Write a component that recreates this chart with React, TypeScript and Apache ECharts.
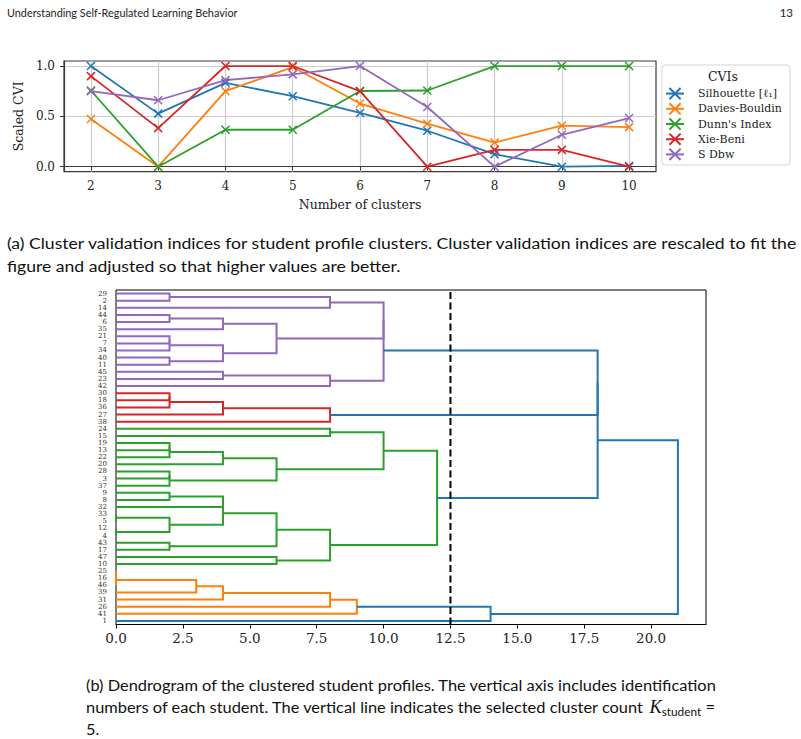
import React, { useEffect, useRef } from 'react';
import * as echarts from 'echarts';

// ---- (a) cluster validation indices, rescaled so that higher is better ----
const clusterCounts = [2, 3, 4, 5, 6, 7, 8, 9, 10];
const silhouette = [1.0, 0.527, 0.833, 0.7, 0.534, 0.357, 0.124, 0.0, 0.007];
const daviesBouldin = [0.473, 0.0, 0.75, 0.99, 0.627, 0.427, 0.24, 0.407, 0.393];
const dunnIndex = [0.757, 0.0, 0.367, 0.367, 0.752, 0.757, 1.0, 1.0, 1.0];
const xieBeni = [0.9, 0.383, 1.0, 1.0, 0.75, 0.0, 0.167, 0.167, 0.0];
const sDbw = [0.75, 0.66, 0.86, 0.917, 1.0, 0.593, 0.0, 0.317, 0.483];
const cviNames = ['Silhouette [ℓ₁]', 'Davies-Bouldin', "Dunn's Index", 'Xie-Beni', 'S Dbw'];
const cviSeries = [silhouette, daviesBouldin, dunnIndex, xieBeni, sDbw];
const cviTicks = [0, 0.5, 1.0];

// ---- (b) dendrogram of student profiles ----
// student ids in leaf order, top to bottom
const studentIds = [
  29, 2, 14, 44, 6, 35, 21, 7, 34, 40, 11, 45, 23, 42, 30, 18, 36, 27, 38, 24,
  15, 19, 13, 22, 20, 28, 3, 37, 9, 8, 32, 33, 5, 12, 4, 43, 17, 47, 10, 25,
  16, 46, 39, 31, 26, 41, 1,
];
// merges: [child, child, distance]; numbers are student ids, 'mK' is merge K
const linkage: [number | string, number | string, number][] = [
  [29, 2, 2],
  ['m0', 14, 8],
  [44, 6, 2],
  ['m2', 35, 4],
  [21, 7, 2],
  ['m4', 34, 2],
  [40, 11, 2],
  ['m5', 'm6', 4],
  ['m3', 'm7', 6],
  ['m1', 'm8', 10],
  [45, 23, 4],
  ['m10', 42, 8],
  ['m9', 'm11', 10],
  [30, 18, 2],
  ['m13', 36, 2],
  ['m14', 27, 4],
  ['m15', 38, 8],
  [24, 15, 8],
  [19, 13, 2],
  ['m18', 22, 2],
  ['m19', 20, 4],
  [28, 3, 2],
  ['m21', 37, 2],
  ['m20', 'm22', 6],
  ['m17', 'm23', 10],
  [9, 8, 2],
  ['m25', 32, 4],
  [33, 5, 0],
  [12, 4, 0],
  ['m27', 'm28', 2],
  ['m26', 'm29', 4],
  [43, 17, 2],
  ['m30', 'm31', 6],
  [47, 10, 6],
  ['m32', 'm33', 8],
  ['m24', 'm34', 12],
  [25, 16, 0],
  ['m36', 46, 0],
  ['m37', 39, 3],
  ['m38', 31, 4],
  ['m39', 26, 8],
  ['m40', 41, 9],
  ['m12', 'm16', 18],
  ['m42', 'm35', 18],
  ['m41', 1, 14],
  ['m43', 'm44', 21],
];
const cutHeight = 12.5;
const distanceTicks = [0, 2.5, 5, 7.5, 10, 12.5, 15, 17.5, 20];

const lineColors = ['#1f77b4', '#ff7f0e', '#2ca02c', '#d62728', '#9467bd'];
const clusterColors = ['#ff7f0e', '#2ca02c', '#d62728', '#9467bd', '#8c564b', '#e377c2'];
const aboveCutColor = '#1f77b4';
const serif = "'DejaVu Serif', serif";
const sans = "Lato, 'Open Sans', sans-serif";

function buildDendrogram() {
  const n = studentIds.length;
  const leafY = new Map<number, number>();
  studentIds.forEach((id, i) => leafY.set(id, 10 * (n - 1 - i) + 5));
  const nodes: { x: number; y: number }[] = [];
  const mergeIndex = (ref: string) => Number(ref.slice(1));
  const resolve = (ref: number | string) =>
    typeof ref === 'number' ? { x: 0, y: leafY.get(ref) as number } : nodes[mergeIndex(ref)];
  const links = linkage.map(([a, b, h]) => {
    const A = resolve(a);
    const B = resolve(b);
    nodes.push({ x: h, y: (A.y + B.y) / 2 });
    return [A.x, A.y, h, B.y, B.x];
  });

  // colour each flat cluster below the cut, ordered from the bottom leaf upwards
  const colors: string[] = linkage.map(() => aboveCutColor);
  const clusters: { members: number[]; low: number }[] = [];
  const collect = (k: number, acc: number[]) => {
    acc.push(k);
    for (const ref of [linkage[k][0], linkage[k][1]]) {
      if (typeof ref === 'string') collect(mergeIndex(ref), acc);
    }
  };
  const visit = (k: number) => {
    if (linkage[k][2] < cutHeight) {
      const acc: number[] = [];
      collect(k, acc);
      const low = Math.min(...acc.map((m) => Math.min(links[m][1], links[m][3])));
      clusters.push({ members: acc, low });
    } else {
      for (const ref of [linkage[k][0], linkage[k][1]]) {
        if (typeof ref === 'string') visit(mergeIndex(ref));
      }
    }
  };
  visit(linkage.length - 1);
  clusters.sort((p, q) => p.low - q.low);
  clusters.forEach((c, i) => c.members.forEach((m) => (colors[m] = clusterColors[i % clusterColors.length])));
  return links.map((l, k) => ({ value: l, itemStyle: { color: colors[k] } }));
}

// caption line helper: left-anchored text, stretched horizontally by sx
function captionLine(text: string, x: number, y: number, size: number, sx: number, extra: any = {}) {
  return {
    type: 'text',
    x,
    y,
    scaleX: sx,
    style: { text, font: `${size}px ${sans}`, fill: '#111', verticalAlign: 'middle', ...extra },
  };
}

export default function App() {
  const ref = useRef<HTMLDivElement>(null);

  useEffect(() => {
    if (!ref.current) return;
    const chart = echarts.init(ref.current, undefined, { renderer: 'svg' });
    const links = buildDendrogram();
    const leafLabels = studentIds.slice().reverse().map(String);
    const maxDistance = Math.max(...linkage.map((l) => l[2])) * 1.05;

    const cviLines = cviNames.map((name, s) => ({
      type: 'line',
      name,
      xAxisIndex: 0,
      yAxisIndex: 0,
      data: clusterCounts.map((c, i) => [c, cviSeries[s][i]]),
      symbol: 'path://M0,0L10,10M0,10L10,0',
      symbolSize: 8,
      lineStyle: { color: lineColors[s], width: 1.8 },
      itemStyle: { color: lineColors[s], borderColor: lineColors[s], borderWidth: 1.5 },
      emphasis: { disabled: true },
      z: 3,
    }));

    chart.setOption({
      animation: false,
      backgroundColor: '#ffffff',
      grid: [
        {
          left: 64, top: 61, width: 592, height: 110.7,
          show: true, borderColor: '#3a3a3a', borderWidth: 1.2, backgroundColor: 'transparent',
          outerBoundsMode: 'none', containLabel: false,
        },
        {
          left: 116, top: 290, width: 590, height: 334.5,
          show: true, borderColor: '#000', borderWidth: 1, backgroundColor: 'transparent',
          outerBoundsMode: 'none', containLabel: false,
        },
      ],
      xAxis: [
        {
          type: 'value', gridIndex: 0, min: 1.6, max: 10.4,
          name: 'Number of clusters', nameLocation: 'middle', nameGap: 26,
          nameTextStyle: { fontFamily: serif, fontSize: 12.5, color: '#222' },
          axisLine: { show: true, lineStyle: { color: '#3a3a3a', width: 1.2 } },
          axisTick: { show: true, length: 4, customValues: clusterCounts, lineStyle: { color: '#3a3a3a' } },
          axisLabel: { customValues: clusterCounts, fontFamily: serif, fontSize: 12, color: '#222', margin: 8 },
          splitLine: { show: true, lineStyle: { color: '#cccccc', width: 1.2 } },
        },
        {
          type: 'value', gridIndex: 1, min: 0, max: maxDistance,
          axisLine: { show: true, lineStyle: { color: '#000', width: 1 } },
          axisTick: { show: true, length: 4, customValues: distanceTicks, lineStyle: { color: '#000' } },
          axisLabel: {
            customValues: distanceTicks, fontFamily: serif, fontSize: 13.5, color: '#222', margin: 6,
            formatter: (v: number) => v.toFixed(1),
          },
          splitLine: { show: false },
        },
      ],
      yAxis: [
        {
          type: 'value', gridIndex: 0, min: -0.05, max: 1.05,
          name: 'Scaled CVI', nameLocation: 'middle', nameGap: 33,
          nameTextStyle: { fontFamily: serif, fontSize: 12.5, color: '#222' },
          axisLine: { show: true, lineStyle: { color: '#3a3a3a', width: 1.2 } },
          axisTick: { show: true, length: 4, customValues: cviTicks, lineStyle: { color: '#3a3a3a' } },
          axisLabel: {
            customValues: cviTicks, fontFamily: serif, fontSize: 12, color: '#222', margin: 9,
            formatter: (v: number) => v.toFixed(1),
          },
          splitLine: { show: true, lineStyle: { color: '#cccccc', width: 1.2 } },
        },
        {
          type: 'value', gridIndex: 1, min: 0, max: 10 * studentIds.length, position: 'right', show: false,
        },
        {
          type: 'category', gridIndex: 1, position: 'left', data: leafLabels, boundaryGap: true,
          axisLine: { show: false }, axisTick: { show: false },
          axisLabel: { interval: 0, fontFamily: serif, fontSize: 7, lineHeight: 7, color: '#333', margin: 9 },
          splitLine: { show: false },
        },
      ],
      legend: {
        data: cviNames,
        orient: 'vertical',
        left: 662, top: 65,
        padding: [22, 8, 4, 3],
        itemWidth: 18, itemHeight: 14, itemGap: 2,
        backgroundColor: '#ffffff', borderColor: '#d4d4d4', borderWidth: 1, borderRadius: 3,
        textStyle: { fontFamily: serif, fontSize: 11, color: '#222', padding: [0, 0, 0, 9] },
        selectedMode: false,
        z: 5,
      },
      graphic: [
        { type: 'text', x: 7, y: 12, scaleX: 0.945, style: { text: 'Understanding Self-Regulated Learning Behavior', font: `11.5px ${sans}`, fill: '#222', verticalAlign: 'middle' } },
        { type: 'text', x: 793, y: 12, style: { text: '13', font: `11.5px ${sans}`, fill: '#222', align: 'right', verticalAlign: 'middle' } },
        { type: 'text', x: 723, y: 76, z: 10, style: { text: 'CVIs', font: `12.5px ${serif}`, fill: '#222', align: 'center', verticalAlign: 'middle' } },
        captionLine('(a) Cluster validation indices for student profile clusters. Cluster validation indices are rescaled to fit the', 7, 243, 16, 1.1),
        captionLine('figure and adjusted so that higher values are better.', 7, 266, 16, 1.1),
        captionLine('(b) Dendrogram of the clustered student profiles. The vertical axis includes identification', 86, 685, 16, 1.026),
        captionLine(
          'numbers of each student. The vertical line indicates the selected cluster count {k|K}{s|student} =',
          86, 707, 16, 1.026,
          {
            rich: {
              k: { fontFamily: "'Liberation Serif', serif", fontStyle: 'italic', fontSize: 18, fill: '#111' },
              s: { fontFamily: sans, fontSize: 11.5, fill: '#111', padding: [9, 0, 0, 0] },
            },
          },
        ),
        captionLine('5.', 86, 729, 16, 1.026),
      ],
      series: [
        ...cviLines,
        {
          type: 'custom',
          name: 'dendrogram',
          xAxisIndex: 1,
          yAxisIndex: 1,
          encode: { x: [0, 2, 4], y: [1, 3] },
          data: links,
          clip: false,
          z: 2,
          renderItem: (_params: any, api: any) => {
            const p0 = api.coord([api.value(0), api.value(1)]);
            const p1 = api.coord([api.value(2), api.value(1)]);
            const p2 = api.coord([api.value(2), api.value(3)]);
            const p3 = api.coord([api.value(4), api.value(3)]);
            return {
              type: 'polyline',
              shape: { points: [p0, p1, p2, p3] },
              style: { stroke: api.visual('color'), lineWidth: 2, fill: null },
            };
          },
        },
        {
          type: 'line',
          name: 'cut',
          xAxisIndex: 1,
          yAxisIndex: 1,
          data: [[cutHeight, 0], [cutHeight, 10 * studentIds.length]],
          symbol: 'none',
          lineStyle: { color: '#000', width: 2, type: [7, 3.5] },
          emphasis: { disabled: true },
          z: 4,
        },
      ],
    });
    return () => chart.dispose();
  }, []);

  return (
    <div
      ref={ref}
      style={{ position: 'fixed', left: 0, top: 0, width: 801, height: 739, background: '#fff' }}
    />
  );
}
